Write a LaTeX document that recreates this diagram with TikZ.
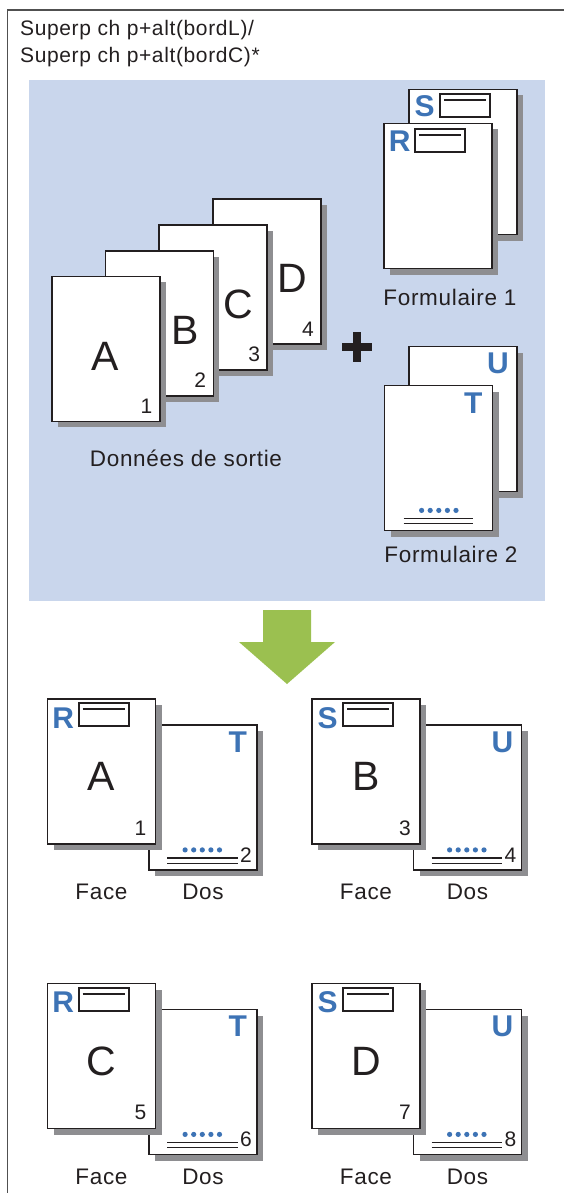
\documentclass[tikz,border=0pt]{standalone}
\usepackage{fontspec}
\setmainfont{Liberation Sans}[LetterSpace=3]
\usepackage{xcolor}
\usepackage{tikz}
\usetikzlibrary{calc,shadows}

\definecolor{panelblue}{RGB}{201,214,236}
\definecolor{formblue}{RGB}{61,115,181}
\definecolor{shadowgray}{RGB}{142,142,145}
\definecolor{inkblack}{RGB}{35,31,32}
\definecolor{arrowgreen}{RGB}{155,192,80}
\definecolor{framegray}{RGB}{80,80,80}

\begin{document}
\begin{tikzpicture}[x=1pt, y=-1pt,
  sheet/.style={draw=inkblack, line width=1.8pt, fill=white, minimum width=108pt, minimum height=145pt, inner sep=0pt,
    drop shadow={shadow xshift=6pt, shadow yshift=-6pt, fill=shadowgray, opacity=1}},
  bigletter/.style={font=\fontsize{41}{41}\selectfont, text=inkblack, inner sep=0pt},
  pageno/.style={font=\fontsize{21}{21}\selectfont, text=inkblack, inner sep=0pt},
  formletter/.style={font=\bfseries\fontsize{30}{30}\selectfont, text=formblue, inner sep=0pt},
  caption/.style={font=\fontsize{22.5}{26}\selectfont, text=inkblack, inner sep=0pt},
  field/.style={draw=inkblack, line width=1.8pt, minimum width=50pt, minimum height=23pt, inner sep=0pt},
  fieldline/.style={draw=inkblack, line width=1.8pt},
  printline/.style={draw=inkblack, line width=1.8pt},
  thinline/.style={draw=inkblack, line width=1.1pt}]
\useasboundingbox (0,0) rectangle (564,1193);
\draw[framegray, line width=1.5pt] (7.5,1193) -- (7.5,10) -- (564,10);
\node[caption, font=\fontsize{21}{27}\selectfont, anchor=north west, align=left] (title) at (20,20) {Superp ch p+alt(bordL)/\\Superp ch p+alt(bordC)*};

\fill[panelblue] (29,80) rectangle (545,601);

\foreach \l/\n/\dx [count=\k from 0] in {D/4/25.5, C/3/25.5, B/2/25.5, A/1/0} {
  \node[sheet] (data\l) at (267-53.8*\k, 271.5+25.8*\k) {};
  \node[bigletter] (big\l) at ($(data\l.center)+(\dx,7)$) {\l};
  \node[pageno] (no\n) at ($(data\l.south east)+(-14,-16)$) {\n};
}
\node[caption] (datalabel) at (186,458) {Données de sortie};

\draw[inkblack, line width=8pt] (342,347) -- (372,347) (357,332) -- (357,362);

\node[sheet] (formS) at (463,162) {};
\node[formletter] (letS) at ($(formS.north west)+(16.5,18)$) {S};
\node[field] (fieldS) at ($(formS.north west)+(57,17)$) {};
\draw[fieldline] ($(fieldS.north west)+(5,7)$) -- ($(fieldS.north east)+(-5,7)$);
\node[sheet] (formR) at (438,196) {};
\node[formletter] (letR) at ($(formR.north west)+(16.5,19)$) {R};
\node[field] (fieldR) at ($(formR.north west)+(57,18)$) {};
\draw[fieldline] ($(fieldR.north west)+(5,7)$) -- ($(fieldR.north east)+(-5,7)$);
\node[caption] (form1label) at (450,297.5) {Formulaire 1};

\node[sheet] (formU) at (463,419) {};
\node[formletter] (letU) at ($(formU.north east)+(-20,18)$) {U};
\node[sheet] (formT) at (438.5,458) {};
\node[formletter] (letT) at ($(formT.north east)+(-20,19)$) {T};
\foreach \j in {0,...,4}
  \fill[formblue] ($(formT.south west)+(38+8.6*\j,-21)$) circle (2.6);
\draw[printline] ($(formT.south west)+(20,-13)$) -- ($(formT.south east)+(-20,-13)$);
\draw[thinline] ($(formT.south west)+(20,-7.5)$) -- ($(formT.south east)+(-20,-7.5)$);
\node[caption] (form2label) at (451,554) {Formulaire 2};

\fill[arrowgreen] (263,610) -- (311,610) -- (311,642) -- (335,642) -- (287,684) -- (239,642) -- (263,642) -- cycle;

\foreach \gx/\gy/\f/\b/\l/\m/\n in {0/0/R/T/A/1/2, 264.5/0/S/U/B/3/4, 0/284.5/R/T/C/5/6, 264.5/284.5/S/U/D/7/8} {
  \node[sheet] (dos\l) at (203+\gx, 797.5+\gy) {};
  \node[formletter] (dosletter\l) at ($(dos\l.north east)+(-20,18)$) {\b};
  \foreach \j in {0,...,4}
    \fill[formblue] ($(dos\l.south west)+(37+8.6*\j,-21)$) circle (2.6);
  \draw[printline] ($(dos\l.south west)+(19,-13)$) -- ($(dos\l.south east)+(-20,-13)$);
  \draw[thinline] ($(dos\l.south west)+(19,-7.5)$) -- ($(dos\l.south east)+(-20,-7.5)$);
  \node[pageno] (dosno\n) at ($(dos\l.south east)+(-12,-16)$) {\n};
  \node[sheet] (face\l) at (101.5+\gx, 771.5+\gy) {};
  \node[formletter] (faceletter\l) at ($(face\l.north west)+(16.5,20)$) {\f};
  \node[field] (facefield\l) at ($(face\l.north west)+(57,16.5)$) {};
  \draw[fieldline] ($(facefield\l.north west)+(5,7)$) -- ($(facefield\l.north east)+(-5,7)$);
  \node[bigletter] (facebig\l) at ($(face\l.center)+(0,5)$) {\l};
  \node[pageno] (faceno\m) at ($(face\l.south east)+(-16,-17)$) {\m};
  \node[caption] (facelabel\l) at (101.5+\gx, 892+\gy) {Face};
  \node[caption] (doslabel\l) at (203+\gx, 892+\gy) {Dos};
}
\end{tikzpicture}
\end{document}
